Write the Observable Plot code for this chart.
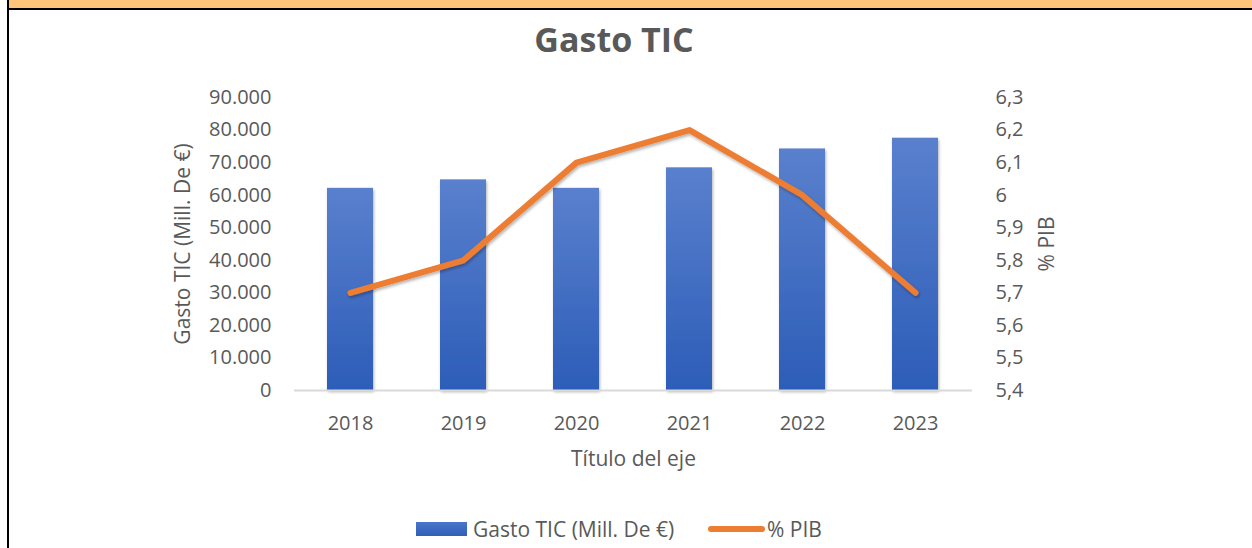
<!DOCTYPE html>
<html>
<head>
<meta charset="utf-8">
<script src="https://cdn.jsdelivr.net/npm/d3@7"></script>
<script src="https://cdn.jsdelivr.net/npm/@observablehq/plot@0.6"></script>
<style>
  html, body { margin: 0; padding: 0; background: #fff; }
  #frame { position: relative; width: 1252px; height: 548px; overflow: hidden; font-family: "Open Sans", sans-serif; color: #595959; }
  #band { position: absolute; left: 9px; top: 0; width: 1243px; height: 8px; background: #FFC679; border-bottom: 2px solid #000; }
  #leftline { position: absolute; left: 7px; top: 0; width: 2px; height: 548px; background: #000; }
  #title { position: absolute; left: 0; top: 14px; width: 1228px; text-align: center; font-size: 34px; font-weight: 700; color: #595959; line-height: 50px; }
  #chart { position: absolute; left: 0; top: 80px; }
  #legend { position: absolute; left: 0; top: 514px; width: 1252px; height: 34px; font-size: 21px; color: #595959; }
  .lg { position: absolute; top: 0; line-height: 30px; white-space: nowrap; }
</style>
</head>
<body>
<div id="frame">
  <div id="band"></div>
  <div id="leftline"></div>
  <div id="title">Gasto TIC</div>
  <div id="chart"></div>
  <div id="legend">
    <div class="lg" style="left:416px;top:8px;width:51px;height:14px;background:linear-gradient(#4a74c9,#2f5fba);"></div>
    <div class="lg" style="left:473px;">Gasto TIC (Mill. De €)</div>
    <div class="lg" style="left:708px;top:12px;width:57px;height:6px;border-radius:3px;background:#ED7D31;"></div>
    <div class="lg" style="left:767px;">% PIB</div>
  </div>
</div>
<script>
const years = ["2018", "2019", "2020", "2021", "2022", "2023"];
const gasto = [62100, 64700, 62100, 68400, 74200, 77500];
const pib = [5.7, 5.8, 6.1, 6.2, 6.0, 5.7];
const leftTicks = [0, 10000, 20000, 30000, 40000, 50000, 60000, 70000, 80000, 90000];
const rightTicks = [5.4, 5.5, 5.6, 5.7, 5.8, 5.9, 6.0, 6.1, 6.2, 6.3];
const rightMin = 5.4, rightMax = 6.3, leftMax = 90000;

const toLeft = v => (v - rightMin) / (rightMax - rightMin) * leftMax;
const fmtLeft = v => v === 0 ? "0" : d3.format(",")(v).replace(/,/g, ".");
const fmtRight = v => String(Math.round(v * 10) / 10).replace(".", ",");

const rows = years.map((y, i) => ({year: y, gasto: gasto[i], pib: pib[i], pibY: toLeft(pib[i])}));

const chart = Plot.plot({
  width: 1252,
  height: 420,
  marginTop: 17,
  marginBottom: 110,
  marginLeft: 294,
  marginRight: 280,
  style: {fontFamily: "Open Sans, sans-serif", fontSize: "20px", color: "#595959", background: "transparent", overflow: "visible"},
  x: {domain: years, paddingInner: 0.59, paddingOuter: 0.295, label: null},
  y: {domain: [0, leftMax], label: null},
  marks: [
    Plot.barY(rows, {x: "year", y: "gasto", fill: "url(#barGrad)"}),
    Plot.ruleY([0], {stroke: "#d9d9d9", strokeWidth: 2}),
    Plot.axisY(leftTicks, {anchor: "left", tickSize: 0, tickPadding: 23, tickFormat: fmtLeft, fill: "#595959", fontSize: 20, label: null}),
    Plot.axisY(rightTicks.map(toLeft), {anchor: "right", tickSize: 0, tickPadding: 23, tickFormat: v => fmtRight(v / leftMax * (rightMax - rightMin) + rightMin), fill: "#595959", fontSize: 20, label: null}),
    Plot.axisX(years, {anchor: "bottom", tickSize: 0, tickPadding: 25, fill: "#595959", fontSize: 20, label: null}),
    Plot.lineY(rows, {x: "year", y: "pibY", stroke: "#ED7D31", strokeWidth: 6, strokeLinecap: "round", strokeLinejoin: "round"}),
    Plot.text(["Título del eje"], {frameAnchor: "bottom", dy: 75, fill: "#595959", fontSize: 21}),
    Plot.text(["Gasto TIC (Mill. De €)"], {frameAnchor: "left", dx: -111, rotate: -90, textAnchor: "middle", fill: "#595959", fontSize: 21}),
    Plot.text(["% PIB"], {frameAnchor: "right", dx: 75, rotate: -90, textAnchor: "middle", fill: "#595959", fontSize: 21})
  ]
});

const svg = d3.select(chart);
const defs = svg.insert("defs", ":first-child");
const g = defs.append("linearGradient").attr("id", "barGrad").attr("x1", 0).attr("y1", 0).attr("x2", 0).attr("y2", 1);
g.append("stop").attr("offset", "0%").attr("stop-color", "#5a80cd");
g.append("stop").attr("offset", "100%").attr("stop-color", "#2c5db8");
const f = defs.append("filter").attr("id", "shadow").attr("x", "-20%").attr("y", "-20%").attr("width", "140%").attr("height", "140%");
f.append("feDropShadow").attr("dx", 1).attr("dy", 2).attr("stdDeviation", 1.5).attr("flood-color", "#000").attr("flood-opacity", 0.3);
svg.selectAll("g[aria-label='bar'], g[aria-label='line']").attr("filter", "url(#shadow)");

document.getElementById("chart").appendChild(chart);
</script>
</body>
</html>
